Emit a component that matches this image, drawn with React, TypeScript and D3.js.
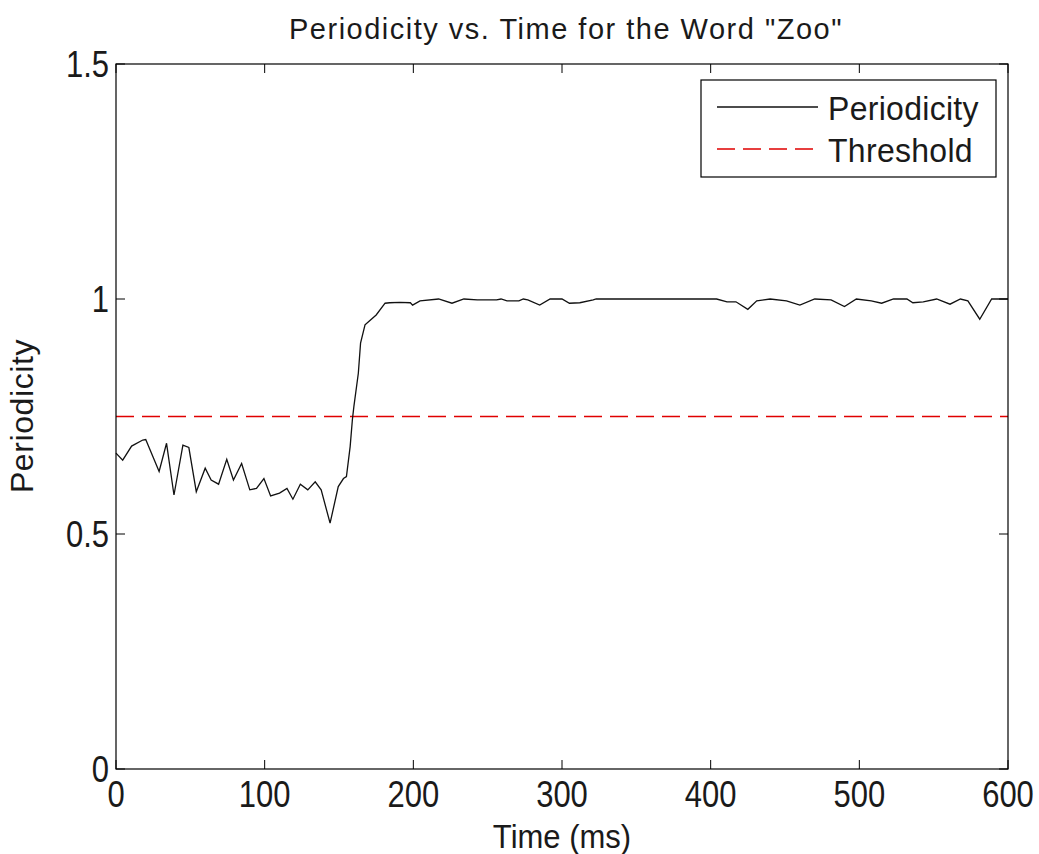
import React from "react";
import * as d3 from "d3";

const timeMs = [
  0, 4.5, 10.5, 18, 20, 29, 34, 39, 45, 49, 54, 60, 64, 69, 74.5, 79, 84.5, 90, 94.5, 99.5,
  104, 110, 115, 119, 124, 129, 134, 138, 144, 149.5, 153, 155, 157.5, 159, 160, 163, 164.5,
  167.5, 171, 175, 181, 184, 191, 198, 199.5, 204.5, 217, 226, 234, 243, 256, 259, 263, 271,
  274, 277, 285, 292, 300, 305, 312, 321, 323, 404, 411, 417, 425, 431, 440, 451, 460, 470,
  481, 490, 498, 508, 515, 523, 532, 536, 543, 552, 561, 568, 573, 581, 589, 600,
];
const periodicity = [
  0.672, 0.657, 0.687, 0.7, 0.701, 0.633, 0.693, 0.583, 0.689, 0.684, 0.59, 0.64, 0.615, 0.606,
  0.659, 0.615, 0.65, 0.594, 0.597, 0.618, 0.581, 0.587, 0.597, 0.574, 0.606, 0.594, 0.611,
  0.594, 0.523, 0.601, 0.618, 0.622, 0.686, 0.743, 0.771, 0.842, 0.906, 0.945, 0.955, 0.966,
  0.991, 0.992, 0.993, 0.992, 0.987, 0.996, 1.0, 0.991, 1.0, 0.998, 0.998, 1.0, 0.996, 0.996,
  1.0, 0.998, 0.987, 1.0, 1.0, 0.991, 0.992, 0.998, 1.0, 1.0, 0.994, 0.994, 0.978, 0.996, 1.0,
  0.996, 0.987, 1.0, 0.998, 0.984, 1.0, 0.996, 0.991, 1.0, 1.0, 0.992, 0.994, 1.0, 0.989, 1.0,
  0.996, 0.957, 1.0, 1.0,
];
const threshold = 0.75;
const xTicks = [0, 100, 200, 300, 400, 500, 600];
const yTicks = [0, 0.5, 1, 1.5];
const yTickLabels = ["0", "0.5", "1", "1.5"];
const legendLabels = ["Periodicity", "Threshold"];
const titleText = 'Periodicity vs. Time for the Word "Zoo"';
const xLabel = "Time (ms)";
const yLabel = "Periodicity";

const W = 1039;
const H = 854;
const M = { left: 116, right: 1008, top: 64, bottom: 769 };
const FONT = '"Liberation Sans", Arial, Helvetica, sans-serif';

export default function App() {
  const x = d3.scaleLinear().domain([0, 600]).range([M.left, M.right]);
  const y = d3.scaleLinear().domain([0, 1.5]).range([M.bottom, M.top]);
  const pts = timeMs.map((t, i) => [t, periodicity[i]] as [number, number]);
  const line = d3
    .line<[number, number]>()
    .x((d) => x(d[0]))
    .y((d) => y(d[1]));
  const tickLen = 9;
  const red = "#e00000";
  const lg = { x0: 701, x1: 996, y0: 80, y1: 177 };
  const textColor = "#1a1a1a";

  const txt = (
    s: string,
    tx: number,
    ty: number,
    anchor: string,
    size: number,
    sy = 1.15,
    rot = 0,
    ls = 0
  ) => (
    <text
      key={s + tx + ty}
      transform={`translate(${tx},${ty}) rotate(${rot}) scale(1,${sy})`}
      textAnchor={anchor}
      fontSize={size}
      fontFamily={FONT}
      letterSpacing={ls}
      fill={textColor}
    >
      {s}
    </text>
  );

  return (
    <div style={{ position: "absolute", left: 0, top: 0 }}>
      <svg width={W} height={H} style={{ display: "block", background: "#fff" }}>
        <rect x={0} y={0} width={W} height={H} fill="#fff" />
        {/* threshold */}
        <line
          x1={x(0)}
          x2={x(600)}
          y1={y(threshold)}
          y2={y(threshold)}
          stroke={red}
          strokeWidth={1.4}
          strokeDasharray="18,8"
        />
        {/* data */}
        <path d={line(pts) || ""} fill="none" stroke="#111" strokeWidth={1.3} />
        {/* axes box */}
        <rect
          x={M.left}
          y={M.top}
          width={M.right - M.left}
          height={M.bottom - M.top}
          fill="none"
          stroke="#000"
          strokeWidth={1.2}
        />
        {xTicks.map((t) => (
          <g key={"xt" + t}>
            <line x1={x(t)} x2={x(t)} y1={M.bottom} y2={M.bottom - tickLen} stroke="#000" />
            <line x1={x(t)} x2={x(t)} y1={M.top} y2={M.top + tickLen} stroke="#000" />
          </g>
        ))}
        {yTicks.map((t) => (
          <g key={"yt" + t}>
            <line x1={M.left} x2={M.left + tickLen} y1={y(t)} y2={y(t)} stroke="#000" />
            <line x1={M.right} x2={M.right - tickLen} y1={y(t)} y2={y(t)} stroke="#000" />
          </g>
        ))}
        {xTicks.map((t) => txt(String(t), x(t), 807, "middle", 31, 1.18))}
        {yTicks.map((t, i) => txt(yTickLabels[i], M.left - 7, y(t) + 13, "end", 31, 1.18))}
        {txt(titleText, (M.left + M.right) / 2 + 4, 39, "middle", 29, 1.0, 0, 1.5)}
        {txt(xLabel, (M.left + M.right) / 2, 848, "middle", 31, 1.05)}
        {txt(yLabel, 33, 416, "middle", 32, 1.0, -90, 0.6)}
        {/* legend */}
        <rect
          x={lg.x0}
          y={lg.y0}
          width={lg.x1 - lg.x0}
          height={lg.y1 - lg.y0}
          fill="#fff"
          stroke="#000"
          strokeWidth={1.2}
        />
        <line x1={717} x2={818} y1={107} y2={107} stroke="#111" strokeWidth={1.3} />
        <line
          x1={717}
          x2={818}
          y1={149}
          y2={149}
          stroke={red}
          strokeWidth={1.4}
          strokeDasharray="18,8"
        />
        {txt(legendLabels[0], 828, 120, "start", 32, 1.05, 0, 0.3)}
        {txt(legendLabels[1], 828, 162, "start", 32, 1.05, 0, 0.3)}
      </svg>
    </div>
  );
}
